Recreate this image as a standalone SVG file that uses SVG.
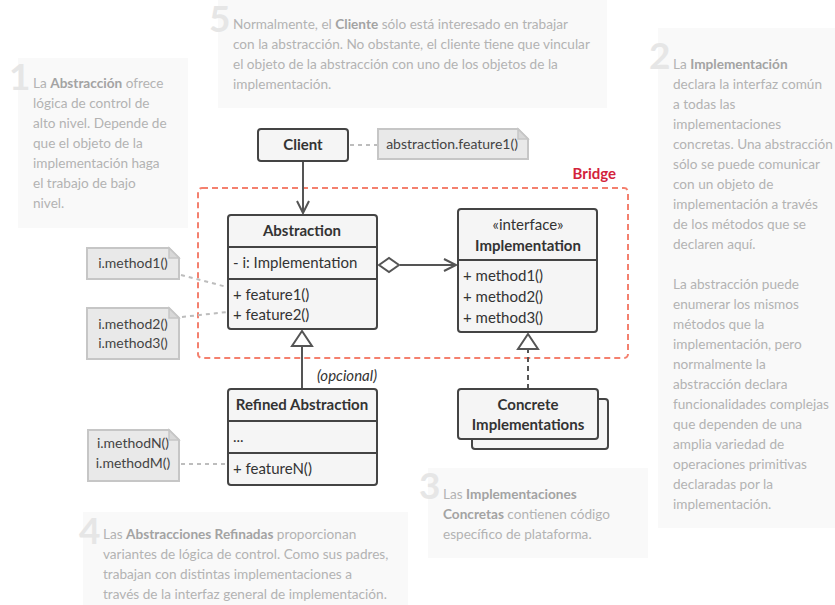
<svg xmlns="http://www.w3.org/2000/svg" width="835" height="605" viewBox="0 0 835 605">
<style>
.cbox{fill:#f9f9f9;}
.digit{font-family:Lato,"Open Sans",sans-serif;font-weight:bold;font-size:37px;fill:#e6e6e6;}
.ct{font-family:Lato,"Liberation Sans",sans-serif;font-size:13.6px;fill:#b3b3b3;}
.ct .b{font-weight:bold;fill:#a3a3a3;}
.box{fill:#f5f5f5;stroke:#444;stroke-width:2;}
.div{stroke:#444;stroke-width:2;fill:none;}
.t{font-family:Lato,"Liberation Sans",sans-serif;font-size:15px;fill:#333;}
.tb{font-family:Lato,"Liberation Sans",sans-serif;font-size:15px;font-weight:bold;fill:#333;text-anchor:middle;}
.tc{font-family:Lato,"Liberation Sans",sans-serif;font-size:15px;fill:#333;text-anchor:middle;}
.note{fill:#e9e9e9;stroke:#c6c6c6;stroke-width:2;}
.fold{fill:#d8d8d8;stroke:#c6c6c6;stroke-width:1.5;}
.nt{font-family:Lato,"Liberation Sans",sans-serif;font-size:14px;fill:#444;text-anchor:middle;}
.line{stroke:#555;stroke-width:2;fill:none;}
.dot{stroke:#bdbdbd;stroke-width:2;stroke-dasharray:4 4;fill:none;}
</style>
<defs>
<marker id="open" markerWidth="16" markerHeight="16" refX="13" refY="7" orient="auto" markerUnits="userSpaceOnUse">
<path d="M1,1 L13,7 L1,13" fill="none" stroke="#555" stroke-width="2"/>
</marker>
</defs>

<!-- callouts -->
<g id="callout5">
<rect class="cbox" x="218" y="0" width="389" height="108"/>
<text class="digit" x="209" y="32">5</text>
<text class="ct" x="233" y="29">Normalmente, el <tspan class="b">Cliente</tspan> sólo está interesado en trabajar</text>
<text class="ct" x="233" y="49">con la abstracción. No obstante, el cliente tiene que vincular</text>
<text class="ct" x="233" y="69">el objeto de la abstracción con uno de los objetos de la</text>
<text class="ct" x="233" y="89">implementación.</text>
</g>
<g id="callout1">
<rect class="cbox" x="18" y="58" width="170" height="170"/>
<text class="digit" x="9" y="90">1</text>
<text class="ct" x="33" y="88">La <tspan class="b">Abstracción</tspan> ofrece</text>
<text class="ct" x="33" y="108">lógica de control de</text>
<text class="ct" x="33" y="128">alto nivel. Depende de</text>
<text class="ct" x="33" y="148">que el objeto de la</text>
<text class="ct" x="33" y="168">implementación haga</text>
<text class="ct" x="33" y="188">el trabajo de bajo</text>
<text class="ct" x="33" y="208">nivel.</text>
</g>
<g id="callout2">
<rect class="cbox" x="658" y="28" width="177" height="500"/>
<text class="digit" x="649" y="69">2</text>
<text class="ct" x="673" y="69">La <tspan class="b">Implementación</tspan></text>
<text class="ct" x="673" y="89">declara la interfaz común</text>
<text class="ct" x="673" y="109">a todas las</text>
<text class="ct" x="673" y="129">implementaciones</text>
<text class="ct" x="673" y="149">concretas. Una abstracción</text>
<text class="ct" x="673" y="169">sólo se puede comunicar</text>
<text class="ct" x="673" y="189">con un objeto de</text>
<text class="ct" x="673" y="209">implementación a través</text>
<text class="ct" x="673" y="229">de los métodos que se</text>
<text class="ct" x="673" y="249">declaren aquí.</text>
<text class="ct" x="673" y="289">La abstracción puede</text>
<text class="ct" x="673" y="309">enumerar los mismos</text>
<text class="ct" x="673" y="329">métodos que la</text>
<text class="ct" x="673" y="349">implementación, pero</text>
<text class="ct" x="673" y="369">normalmente la</text>
<text class="ct" x="673" y="389">abstracción declara</text>
<text class="ct" x="673" y="409">funcionalidades complejas</text>
<text class="ct" x="673" y="429">que dependen de una</text>
<text class="ct" x="673" y="449">amplia variedad de</text>
<text class="ct" x="673" y="469">operaciones primitivas</text>
<text class="ct" x="673" y="489">declaradas por la</text>
<text class="ct" x="673" y="509">implementación.</text>
</g>
<g id="callout3">
<rect class="cbox" x="428" y="468" width="220" height="90"/>
<text class="digit" x="419" y="499">3</text>
<text class="ct" x="443" y="499">Las <tspan class="b">Implementaciones</tspan></text>
<text class="ct" x="443" y="519"><tspan class="b">Concretas</tspan> contienen código</text>
<text class="ct" x="443" y="539">específico de plataforma.</text>
</g>
<g id="callout4">
<rect class="cbox" x="83" y="512" width="325" height="93"/>
<text class="digit" x="79" y="544">4</text>
<text class="ct" x="103" y="539">Las <tspan class="b">Abstracciones Refinadas</tspan> proporcionan</text>
<text class="ct" x="103" y="559">variantes de lógica de control. Como sus padres,</text>
<text class="ct" x="103" y="579">trabajan con distintas implementaciones a</text>
<text class="ct" x="103" y="599">través de la interfaz general de implementación.</text>
</g>

<!-- bridge boundary -->
<g id="bridge">
<rect x="198" y="188" width="430" height="170" rx="4" fill="none" stroke="#f4806e" stroke-width="2" stroke-dasharray="6 4"/>
<text x="616" y="179" text-anchor="end" font-family="Lato,'Liberation Sans',sans-serif" font-size="15" font-weight="bold" fill="#d3233b">Bridge</text>
</g>

<!-- connectors -->
<g id="connectors">
<line class="line" x1="303" y1="161" x2="303" y2="213" marker-end="url(#open)"/>
<line class="line" x1="400" y1="265" x2="456" y2="265" marker-end="url(#open)"/>
<path d="M379,265 L389,258 L399,265 L389,272 Z" fill="#fff" stroke="#555" stroke-width="2"/>
<line class="line" x1="302" y1="389" x2="302" y2="346"/>
<path d="M302,331 L312,346 L292,346 Z" fill="#fff" stroke="#555" stroke-width="2"/>
<line class="line" x1="528" y1="389" x2="528" y2="348" stroke-dasharray="5 4"/>
<path d="M528,334 L538,349 L518,349 Z" fill="#fff" stroke="#555" stroke-width="2"/>
<line class="dot" x1="350" y1="145" x2="377" y2="145"/>
<line class="dot" x1="181" y1="275" x2="227" y2="287"/>
<line class="dot" x1="182" y1="317" x2="227" y2="312"/>
<line class="dot" x1="181" y1="464" x2="227" y2="464"/>
</g>

<!-- nodes -->
<g id="client">
<rect class="box" x="258" y="129" width="90" height="32" rx="3"/>
<text class="tb" x="303" y="150">Client</text>
</g>
<g id="note-client">
<path class="note" d="M378,129 L518,129 L528,139 L528,159 L378,159 Z"/>
<path class="fold" d="M518,129 L518,139 L528,139 Z"/>
<text class="nt" x="452" y="149">abstraction.feature1()</text>
</g>
<g id="abstraction">
<rect class="box" x="228" y="215" width="149" height="114" rx="3"/>
<line class="div" x1="228" y1="247" x2="377" y2="247"/>
<line class="div" x1="228" y1="279" x2="377" y2="279"/>
<text class="tb" x="302" y="236">Abstraction</text>
<text class="t" x="233" y="268">- i: Implementation</text>
<text class="t" x="233" y="300">+ feature1()</text>
<text class="t" x="233" y="320">+ feature2()</text>
</g>
<g id="implementation">
<rect class="box" x="458" y="209" width="139" height="123" rx="3"/>
<line class="div" x1="458" y1="260" x2="597" y2="260"/>
<text class="tc" x="528" y="230">«interface»</text>
<text class="tb" x="528" y="251">Implementation</text>
<text class="t" x="463" y="281">+ method1()</text>
<text class="t" x="463" y="302">+ method2()</text>
<text class="t" x="463" y="323">+ method3()</text>
</g>
<g id="note-m1">
<path class="note" d="M87,248 L169,248 L179,258 L179,279 L87,279 Z"/>
<path class="fold" d="M169,248 L169,258 L179,258 Z"/>
<text class="nt" x="133" y="268">i.method1()</text>
</g>
<g id="note-m23">
<path class="note" d="M87,308 L169,308 L179,318 L179,359 L87,359 Z"/>
<path class="fold" d="M169,308 L169,318 L179,318 Z"/>
<text class="nt" x="133" y="329">i.method2()</text>
<text class="nt" x="133" y="348">i.method3()</text>
</g>
<g id="refined">
<rect class="box" x="228" y="389" width="149" height="96" rx="3"/>
<line class="div" x1="228" y1="421" x2="377" y2="421"/>
<line class="div" x1="228" y1="453" x2="377" y2="453"/>
<text class="tb" x="302" y="410">Refined Abstraction</text>
<text class="t" x="233" y="442">...</text>
<text class="t" x="233" y="474">+ featureN()</text>
<text x="377" y="381" text-anchor="end" font-family="Lato,'Liberation Sans',sans-serif" font-size="15" font-style="italic" fill="#333">(opcional)</text>
</g>
<g id="note-mn">
<path class="note" d="M88,430 L169,430 L179,440 L179,481 L88,481 Z"/>
<path class="fold" d="M169,430 L169,440 L179,440 Z"/>
<text class="nt" x="133" y="448">i.methodN()</text>
<text class="nt" x="133" y="468">i.methodM()</text>
</g>
<g id="concrete">
<rect class="box" x="472" y="399" width="136" height="50" rx="3"/>
<rect class="box" x="458" y="389" width="140" height="50" rx="3"/>
<text class="tb" x="528" y="410">Concrete</text>
<text class="tb" x="528" y="430">Implementations</text>
</g>
</svg>
